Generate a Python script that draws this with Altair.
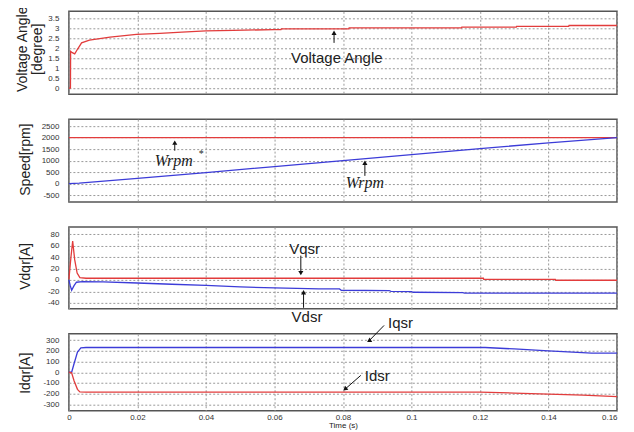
import altair as alt
import pandas as pd

RED = "#e23c3c"
BLUE = "#3c3cd8"
FONT = "Liberation Sans"
W = 549

# ---------------- data ----------------
# Panel 1: voltage angle [degree]
va_t = [0, 0.00045, 0.0005, 0.0010, 0.0017, 0.0025, 0.0037, 0.006, 0.012, 0.0197,
        0.0265, 0.033, 0.04, 0.048, 0.06, 0.0619, 0.062, 0.0817, 0.0818, 0.1146,
        0.1147, 0.1306, 0.1307, 0.1459, 0.146, 0.16]
va_v = [0, 0, 1.85, 1.78, 1.72, 1.95, 2.27, 2.41, 2.56, 2.70,
        2.75, 2.81, 2.87, 2.90, 2.93, 2.93, 2.97, 2.97, 3.02, 3.02,
        3.06, 3.06, 3.10, 3.10, 3.14, 3.14]

# Panel 2: speed [rpm]
wref_t = [0, 0.16]
wref_v = [2000, 2000]
wrpm_t = [0, 0.003, 0.02, 0.04, 0.06, 0.08, 0.1, 0.12, 0.14, 0.16]
wrpm_v = [0, 20, 230, 480, 740, 1000, 1260, 1520, 1770, 2000]

# Panel 3: Vqsr / Vdsr
vq_t = [0, 0.0006, 0.0011, 0.0017, 0.0024, 0.0032, 0.005, 0.121, 0.1211, 0.142, 0.1421, 0.16]
vq_v = [1, 40, 68, 35, 12, 4, 3, 3, 1, 1, -0.5, -0.5]
vd_t = [0, 0.0004, 0.0008, 0.0015, 0.0022, 0.004, 0.01, 0.02, 0.03, 0.04, 0.05, 0.06,
        0.073, 0.079, 0.0795, 0.0935, 0.094, 0.1, 0.1005, 0.115, 0.1155, 0.16]
vd_v = [0, -10, -18, -10, -4, -3, -3.5, -5.3, -7.5, -9.5, -12, -14,
        -15.7, -15.7, -18, -18.5, -20, -20.5, -21.5, -22, -23, -23]

# Panel 4: Iqsr / Idsr
iq_t = [0, 0.0008, 0.0015, 0.0025, 0.0035, 0.005, 0.1215, 0.13, 0.14, 0.1526, 0.16]
iq_v = [0, 0, 80, 190, 228, 232, 232, 218, 201, 180, 180]
id_t = [0, 0.0008, 0.0015, 0.0025, 0.0032, 0.005, 0.12, 0.13, 0.14, 0.15, 0.16]
id_v = [0, -5, -80, -160, -184, -186, -186, -195, -205, -215, -228]

# annotations: label, t, v
p1_text = (["Voltage Angle"], [0.0782], [1.52])
p1_arrow = ([0.0774], [2.27], [0.0774], [2.78], [0])
p2_text = (["Wrpm", "Wrpm"], [0.0306, 0.0864], [993, 31])
p2_star = (["*"], [0.0386], [1300])
p2_arrow = ([0.0309, 0.0864], [1431, 337], [0.0309, 0.0864], [1781, 906], [0, 0])
p3_text = (["Vqsr", "Vdsr"], [0.0688, 0.0695], [53.8, -65.5])
p3_arrow = ([0.0677, 0.0685], [42.5, -48.6], [0.0677, 0.0685], [11.9, -21.4], [180, 0])
p4_text = (["Iqsr", "Idsr"], [0.0968, 0.090], [460, -38.8])
p4_arrow = ([0.092, 0.0852], [438.6, -29.5], [0.0876, 0.0806], [293.6, -158.8], [239, 231])

x_ticks = [0, 0.02, 0.04, 0.06, 0.08, 0.1, 0.12, 0.14, 0.16]

LABEL_EXPR = "'' + datum.value"


def series_df(t, v):
    return pd.DataFrame({"t": t, "v": v, "i": list(range(len(t)))})


def make_panel(h, ydom, yticks, ytitle, title_x, title_y, lines, texts, arrows,
               bottom=False, serif_texts=None, stars=None):
    xaxis = dict(values=x_ticks, grid=True, ticks=False, domain=False,
                 labelExpr=LABEL_EXPR, labels=bottom)
    if bottom:
        xaxis.update(title="Time (s)", labelFontSize=8, labelPadding=3,
                     titleFontSize=8, titleFontWeight="normal", titlePadding=0,
                     labelAlign=alt.expr("datum.value >= 0.16 ? 'right' : 'center'"))
    else:
        xaxis.update(title="")
    xenc = alt.X("t:Q", scale=alt.Scale(domain=[0, 0.16], nice=False, zero=False),
                 axis=alt.Axis(**xaxis))
    yenc = alt.Y("v:Q", scale=alt.Scale(domain=ydom, nice=False, zero=False),
                 axis=alt.Axis(values=yticks, grid=True, ticks=False, domain=False,
                               labelExpr=LABEL_EXPR, labelFontSize=8, labelPadding=10,
                               title=ytitle, titleX=title_x, titleY=title_y,
                               titleFontSize=14, titleFontWeight="normal",
                               titleLineHeight=15))
    layers = []
    for (t, v, col) in lines:
        layers.append(alt.Chart(series_df(t, v)).mark_line(color=col, strokeWidth=1.3)
                      .encode(x=xenc, y=yenc, order="i:Q"))
    if texts:
        lab, tt, vv = texts
        layers.append(alt.Chart(pd.DataFrame({"lab": lab, "t": tt, "v": vv}))
                      .mark_text(font=FONT, fontSize=15, color="#222", baseline="middle")
                      .encode(x=xenc, y=yenc, text="lab:N"))
    if serif_texts:
        lab, tt, vv = serif_texts
        layers.append(alt.Chart(pd.DataFrame({"lab": lab, "t": tt, "v": vv}))
                      .mark_text(font="Liberation Serif", fontStyle="italic", fontSize=16,
                                 color="#222", baseline="middle")
                      .encode(x=xenc, y=yenc, text="lab:N"))
    if stars:
        lab, tt, vv = stars
        layers.append(alt.Chart(pd.DataFrame({"lab": lab, "t": tt, "v": vv}))
                      .mark_text(font="Liberation Serif", fontSize=10, color="#222",
                                 baseline="middle")
                      .encode(x=xenc, y=yenc, text="lab:N"))
    if arrows:
        t1, v1, t2, v2, ang = arrows
        adf = pd.DataFrame({"t": t1, "v": v1, "t2": t2, "v2": v2, "a": ang})
        layers.append(alt.Chart(adf).mark_rule(color="#111", strokeWidth=1)
                      .encode(x=xenc, y=yenc, x2="t2:Q", y2="v2:Q"))
        hdf = pd.DataFrame({"t": t2, "v": v2, "a": ang})
        layers.append(alt.Chart(hdf).mark_point(shape="triangle-up", filled=True,
                                                size=26, color="#111", opacity=1)
                      .encode(x=xenc, y=yenc, angle=alt.Angle("a:Q", scale=None)))
    return alt.layer(*layers).properties(width=W, height=h)


p1 = make_panel(83, [-0.3, 3.85], [0, 0.5, 1, 1.5, 2, 2.5, 3, 3.5],
                ["Voltage Angle", "\u00a0\u00a0\u00a0\u00a0\u00a0[degree]"], -39, 37.5,
                [(va_t, va_v, RED)], p1_text, p1_arrow)
p2 = make_panel(83, [-800, 2800], [-500, 0, 500, 1000, 1500, 2000, 2500],
                "Speed[rpm]", -36, 40,
                [(wref_t, wref_v, RED), (wrpm_t, wrpm_v, BLUE)], None, p2_arrow,
                serif_texts=p2_text, stars=p2_star)
p3 = make_panel(82, [-50.5, 92.5], [-40, -20, 0, 20, 40, 60, 80],
                "Vdqr[A]", -36, 39,
                [(vq_t, vq_v, RED), (vd_t, vd_v, BLUE)], p3_text, p3_arrow)
p4 = make_panel(77, [-360, 360], [-300, -200, -100, 0, 100, 200, 300],
                "Idqr[A]", -36, 39,
                [(iq_t, iq_v, BLUE), (id_t, id_v, RED)], p4_text, p4_arrow, bottom=True)

chart = (alt.vconcat(p1, p2, p3, p4, spacing=25, bounds="flush")
         .properties(padding={"left": 7, "top": -4, "right": 5, "bottom": 0},
                     background="white")
         .configure_view(stroke="#555", strokeWidth=1.5)
         .configure_axis(gridColor="#999", gridDash=[2, 2], gridWidth=1,
                         labelColor="#333", titleColor="#222", labelFont=FONT,
                         titleFont=FONT))

chart.save("out.html", embed_options={"renderer": "svg", "actions": False})
